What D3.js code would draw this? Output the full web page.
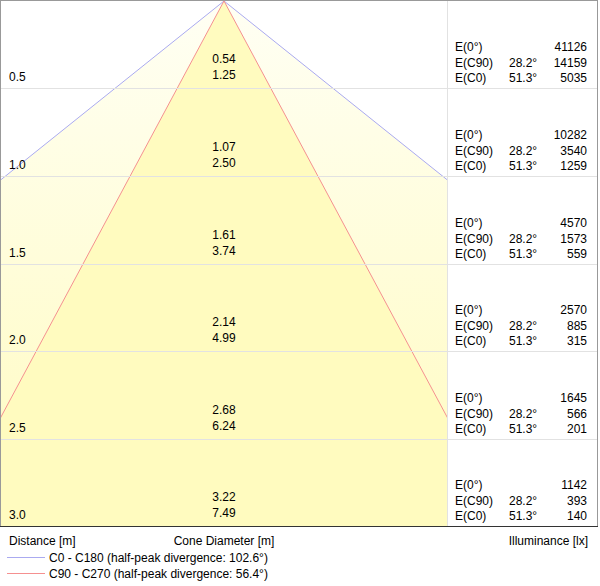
<!DOCTYPE html>
<html><head><meta charset="utf-8">
<script src="https://cdn.jsdelivr.net/npm/d3@7"></script>
<style>body{margin:0;background:#fff}text{font-family:"Liberation Sans",Arial,sans-serif;font-size:12px;fill:#000}</style>
</head><body><svg id="c" width="600" height="586"></svg>
<script>
var distances = [0.5, 1.0, 1.5, 2.0, 2.5, 3.0];
var diamC90 = [0.54, 1.07, 1.61, 2.14, 2.68, 3.22];
var diamC0 = [1.25, 2.50, 3.74, 4.99, 6.24, 7.49];
var eCenter = [41126, 10282, 4570, 2570, 1645, 1142];
var eC90 = [14159, 3540, 1573, 885, 566, 393];
var eC0 = [5035, 1259, 559, 315, 201, 140];
var halfAngles = {c0: 51.3, c90: 28.2};
var legendLabels = ["C0 - C180 (half-peak divergence: 102.6°)", "C90 - C270 (half-peak divergence: 56.4°)"];

var svg = d3.select("#c");
var areaL = 1, areaR = 447, areaT = 1, areaB = 526, panelR = 597;
var y = d3.scaleLinear().domain([0, 3]).range([areaT, areaB]);
var pxPerM = (areaB - areaT) / 3;
var cx = (areaL + areaR) / 2;
var x = d3.scaleLinear().domain([-(cx - areaL) / pxPerM, (areaR - cx) / pxPerM]).range([areaL, areaR]);

var defs = svg.append("defs");
defs.append("clipPath").attr("id", "clip").append("rect")
  .attr("x", areaL).attr("y", areaT).attr("width", areaR - areaL).attr("height", areaB - areaT);
var g = defs.append("linearGradient").attr("id", "grad").attr("x1", 0).attr("x2", 0)
  .attr("gradientUnits", "userSpaceOnUse").attr("y1", areaT).attr("y2", areaB);
g.append("stop").attr("offset", 0).attr("stop-color", "#fffff4");
g.append("stop").attr("offset", 1).attr("stop-color", "#fffbbf");

function cone(a) {
  var h = 3 * Math.tan(a * Math.PI / 180);
  return [[x(0), y(0)], [x(-h), y(3)], [x(h), y(3)]];
}
function edges(p) { return "M" + p[1] + "L" + p[0] + "L" + p[2]; }
var cg = svg.append("g").attr("clip-path", "url(#clip)");
cg.append("path").attr("d", "M" + cone(halfAngles.c0).join("L") + "Z").attr("fill", "url(#grad)");
cg.append("path").attr("d", "M" + cone(halfAngles.c90).join("L") + "Z").attr("fill", "#fffbbf");
cg.append("path").attr("d", edges(cone(halfAngles.c0))).attr("fill", "none").attr("stroke", "#aaaaf0");
cg.append("path").attr("d", edges(cone(halfAngles.c90))).attr("fill", "none").attr("stroke", "#f59090");

// grid
svg.selectAll(".grid").data(distances.slice(0, -1)).enter().append("line")
  .attr("x1", areaL).attr("x2", panelR).attr("y1", function(d) { return Math.round(y(d)) + 0.5; })
  .attr("y2", function(d) { return Math.round(y(d)) + 0.5; }).attr("stroke", "#e2e2e2");
svg.append("line").attr("x1", areaR + 0.5).attr("x2", areaR + 0.5).attr("y1", areaT).attr("y2", areaB).attr("stroke", "#e2e2e2");
svg.append("rect").attr("x", 0.5).attr("y", 0.5).attr("width", panelR).attr("height", areaB).attr("fill", "none").attr("stroke", "#999");
svg.append("line").attr("x1", 0).attr("x2", panelR + 1).attr("y1", areaB + 0.5).attr("y2", areaB + 0.5).attr("stroke", "#333");

distances.forEach(function(d, i) {
  var b = Math.round(y(d));
  svg.append("text").attr("x", 9).attr("y", b - 7).text(d.toFixed(1));
  svg.append("text").attr("x", cx).attr("y", b - 25).attr("text-anchor", "middle").text(diamC90[i].toFixed(2));
  svg.append("text").attr("x", cx).attr("y", b - 9).attr("text-anchor", "middle").text(diamC0[i].toFixed(2));
  var rows = [["E(0°)", "", eCenter[i]], ["E(C90)", halfAngles.c90.toFixed(1) + "°", eC90[i]], ["E(C0)", halfAngles.c0.toFixed(1) + "°", eC0[i]]];
  rows.forEach(function(r, k) {
    var by = b - 37 + k * 15.5;
    svg.append("text").attr("x", 455).attr("y", by).text(r[0]);
    svg.append("text").attr("x", 509).attr("y", by).text(r[1]);
    svg.append("text").attr("x", 587).attr("y", by).attr("text-anchor", "end").text(r[2]);
  });
});

svg.append("text").attr("x", 9).attr("y", 545).text("Distance [m]");
svg.append("text").attr("x", cx).attr("y", 545).attr("text-anchor", "middle").text("Cone Diameter [m]");
svg.append("text").attr("x", 588).attr("y", 545).attr("text-anchor", "end").text("Illuminance [lx]");
var lc = ["#aaaaf0", "#f59090"];
legendLabels.forEach(function(l, i) {
  var ly = 557 + i * 16;
  svg.append("line").attr("x1", 7).attr("x2", 45).attr("y1", ly + 0.5).attr("y2", ly + 0.5).attr("stroke", lc[i]);
  svg.append("text").attr("x", 49).attr("y", ly + 5).text(l);
});
</script></body></html>
